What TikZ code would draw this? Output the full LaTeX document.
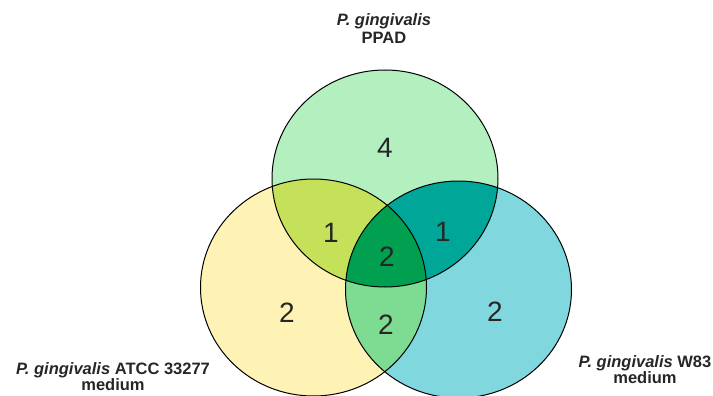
\documentclass[tikz,border=0pt]{standalone}
\usepackage{fontspec}
\setmainfont{Liberation Sans}
\definecolor{cT}{RGB}{179,239,191}
\definecolor{cL}{RGB}{254,242,180}
\definecolor{cR}{RGB}{128,216,222}
\definecolor{cTL}{RGB}{197,225,90}
\definecolor{cTR}{RGB}{0,166,151}
\definecolor{cLR}{RGB}{126,220,146}
\definecolor{cC}{RGB}{0,160,80}
\begin{document}
\begin{tikzpicture}[x=1pt,y=-1pt,
  rad/.style={x radius=113pt,y radius=108.5pt},
  num/.style={inner sep=0pt,font=\fontsize{28}{28}\selectfont,text=black!85},
  lab/.style={inner sep=0pt,anchor=base,font=\fontsize{16.5}{18}\selectfont\bfseries,text=black!85}]
\useasboundingbox (0,0) rectangle (713,396);
\coordinate (T) at (385,178.5);
\coordinate (L) at (313.5,287.5);
\coordinate (R) at (458.5,289.5);
% base fills
\fill[cT] (T) ellipse[rad];
\fill[cL] (L) ellipse[rad];
\fill[cR] (R) ellipse[rad];
% pairwise overlaps
\begin{scope}\clip (T) ellipse[rad]; \fill[cTL] (L) ellipse[rad];\end{scope}
\begin{scope}\clip (T) ellipse[rad]; \fill[cTR] (R) ellipse[rad];\end{scope}
\begin{scope}\clip (L) ellipse[rad]; \fill[cLR] (R) ellipse[rad];\end{scope}
\begin{scope}\clip (T) ellipse[rad]; \clip (L) ellipse[rad]; \fill[cC] (R) ellipse[rad];\end{scope}
% outlines
\draw[line width=1pt] (T) ellipse[rad];
\draw[line width=1pt] (L) ellipse[rad];
\draw[line width=1pt] (R) ellipse[rad];
% counts
\node[num] (n4) at (385,148) {4};
\node[num] (n1a) at (331,233) {1};
\node[num] (n1b) at (443,232) {1};
\node[num] (n2c) at (387,257) {2};
\node[num] (n2d) at (386,325) {2};
\node[num] (n2l) at (287,313) {2};
\node[num] (n2r) at (495,312) {2};
% labels
\node[lab] (ta) at (384,26) {\itshape P. gingivalis};
\node[lab] (tb) at (384,44) {PPAD};
\node[lab] (la) at (113,374) {\itshape P. gingivalis\/\upshape\ ATCC 33277};
\node[lab] (lb) at (113,390) {medium};
\node[lab] (ra) at (645,367) {\itshape P. gingivalis\/\upshape\ W83};
\node[lab] (rb) at (645,383) {medium};
\end{tikzpicture}
\end{document}
